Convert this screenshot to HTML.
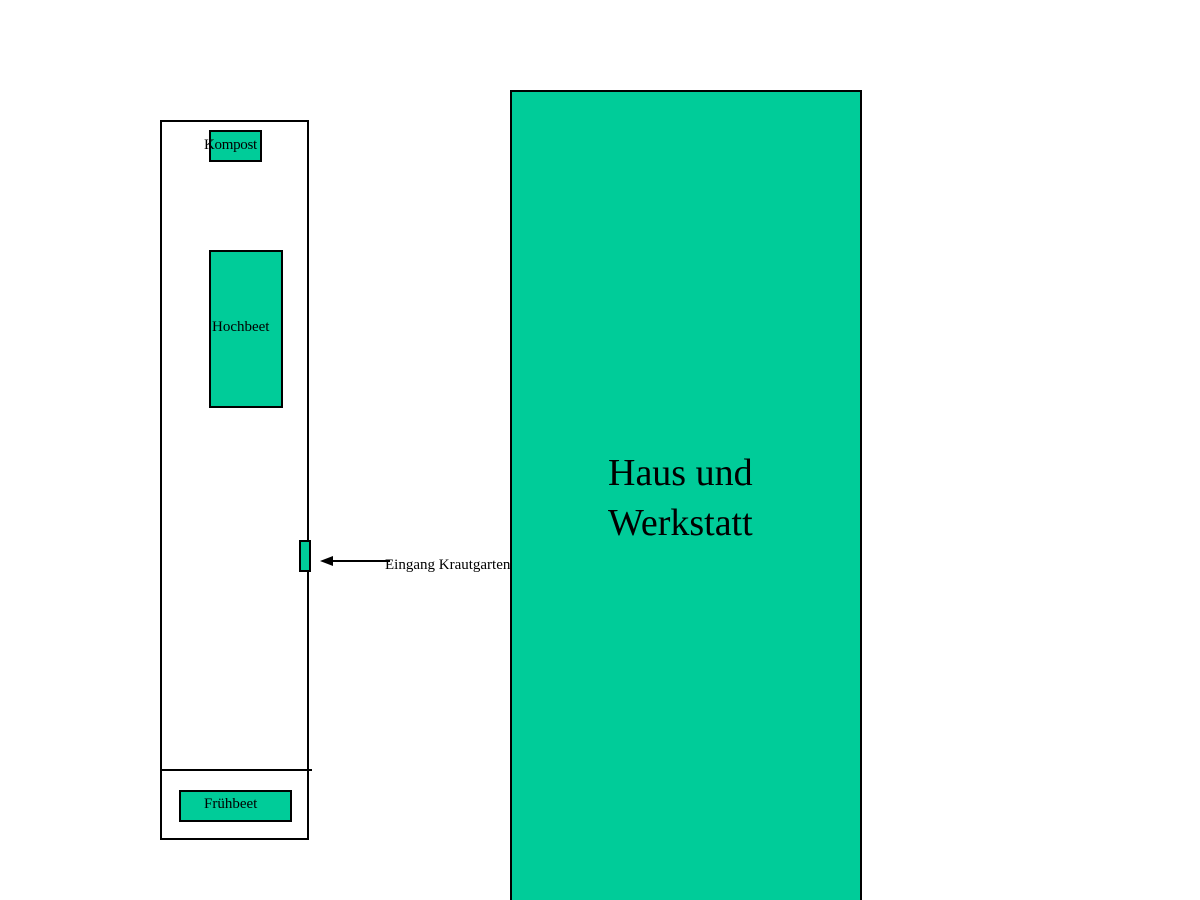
<!DOCTYPE html>
<html style="margin:0;width:1200px;height:900px;overflow:hidden;"><head><style>
body{margin:0;width:1200px;height:900px;background:#fff;position:relative;overflow:hidden;font-family:"Liberation Serif",serif;}
.b{position:absolute;box-sizing:border-box;border:2px solid #000;}
.g{background:#00cc99;}
.t{position:absolute;color:#000;white-space:nowrap;}
</style></head><body>
<div class="b" style="left:160px;top:120px;width:149px;height:720px;"></div>
<div style="position:absolute;left:160px;top:769px;width:152px;height:2px;background:#000;"></div>
<div class="b g" style="left:209px;top:130px;width:53px;height:32px;"></div>
<div class="t" style="left:204px;top:137px;font-size:15px;letter-spacing:-0.3px;">Kompost</div>
<div class="b g" style="left:209px;top:250px;width:74px;height:158px;"></div>
<div class="t" style="left:212px;top:319px;font-size:15px;">Hochbeet</div>
<div class="b g" style="left:179px;top:790px;width:113px;height:32px;"></div>
<div class="t" style="left:204px;top:796px;font-size:15px;">Frühbeet</div>
<div class="b g" style="left:299px;top:540px;width:12px;height:32px;"></div>
<div style="position:absolute;left:330px;top:560px;width:60px;height:2px;background:#000;"></div>
<div style="position:absolute;left:320px;top:556px;width:0;height:0;border-top:5px solid transparent;border-bottom:5px solid transparent;border-right:13px solid #000;"></div>
<div class="t" style="left:385px;top:557px;font-size:15px;">Eingang Krautgarten</div>
<div class="b g" style="left:510px;top:90px;width:352px;height:815px;"></div>
<div class="t" style="left:608px;top:448px;font-size:38px;line-height:50px;">Haus und<br>Werkstatt</div>
</body></html>
